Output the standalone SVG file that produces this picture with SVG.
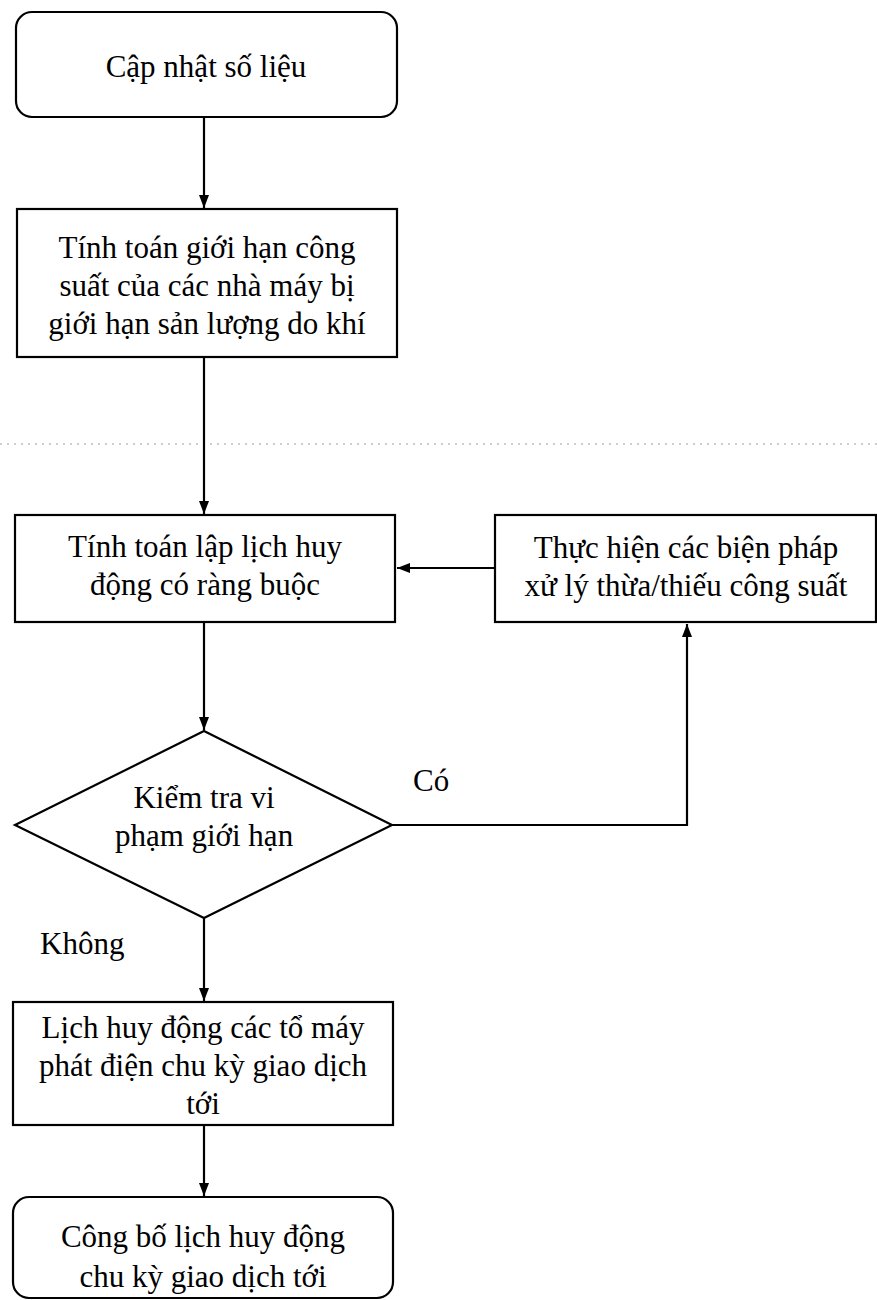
<svg xmlns="http://www.w3.org/2000/svg" width="877" height="1300" viewBox="0 0 877 1300">
<style>
  .box { fill: #ffffff; stroke: #000000; stroke-width: 2.2; }
  .conn { fill: none; stroke: #000000; stroke-width: 2.2; }
  .t { font-family: "Liberation Serif", "Times New Roman", serif; font-size: 31px; fill: #000000; text-anchor: middle; }
  .lbl { font-family: "Liberation Serif", "Times New Roman", serif; font-size: 31px; fill: #000000; }
  .dots { stroke: #9a9a9a; stroke-width: 1; stroke-dasharray: 2 5; fill: none; }
</style>
<defs>
  <marker id="arr" markerUnits="userSpaceOnUse" markerWidth="13" markerHeight="10" refX="13" refY="5" orient="auto">
    <path d="M0,0 L13,5 L0,10 Z" fill="#000000"/>
  </marker>
</defs>
<rect width="877" height="1300" fill="#ffffff"/>
<line class="dots" x1="0" y1="444" x2="877" y2="444"/>

<g id="connectors">
  <line class="conn" x1="204" y1="117" x2="204" y2="208" marker-end="url(#arr)"/>
  <line class="conn" x1="204" y1="357" x2="204" y2="514" marker-end="url(#arr)"/>
  <line class="conn" x1="204" y1="622" x2="204" y2="730" marker-end="url(#arr)"/>
  <polyline class="conn" points="392,825 687,825 687,624" marker-end="url(#arr)"/>
  <line class="conn" x1="495" y1="568" x2="397" y2="568" marker-end="url(#arr)"/>
  <line class="conn" x1="204" y1="918" x2="204" y2="1001" marker-end="url(#arr)"/>
  <line class="conn" x1="204" y1="1125" x2="204" y2="1196" marker-end="url(#arr)"/>
  <text class="lbl" x="413" y="791">Có</text>
  <text class="lbl" x="40" y="954">Không</text>
</g>

<g id="n1">
  <rect class="box" x="16" y="12" width="381" height="105" rx="16" ry="16"/>
  <text class="t" x="206" y="77">Cập nhật số liệu</text>
</g>

<g id="n2">
  <rect class="box" x="17" y="209" width="380" height="148"/>
  <text class="t" x="207" y="258">Tính toán giới hạn công</text>
  <text class="t" x="207" y="296">suất của các nhà máy bị</text>
  <text class="t" x="207" y="334">giới hạn sản lượng do khí</text>
</g>

<g id="n3">
  <rect class="box" x="15" y="515" width="380" height="107"/>
  <text class="t" x="205" y="557">Tính toán lập lịch huy</text>
  <text class="t" x="205" y="595">động có ràng buộc</text>
</g>

<g id="n4">
  <rect class="box" x="495" y="515" width="381" height="107"/>
  <text class="t" x="686" y="558">Thực hiện các biện pháp</text>
  <text class="t" x="686" y="596">xử lý thừa/thiếu công suất</text>
</g>

<g id="n5">
  <polygon class="box" points="204,731 392,825 204,918 15,825"/>
  <text class="t" x="204" y="808">Kiểm tra vi</text>
  <text class="t" x="204" y="846">phạm giới hạn</text>
</g>

<g id="n6">
  <rect class="box" x="13" y="1002" width="380" height="123"/>
  <text class="t" x="203" y="1038">Lịch huy động các tổ máy</text>
  <text class="t" x="203" y="1076">phát điện chu kỳ giao dịch</text>
  <text class="t" x="203" y="1114">tới</text>
</g>

<g id="n7">
  <rect class="box" x="13" y="1197" width="380" height="101" rx="16" ry="16"/>
  <text class="t" x="203" y="1247">Công bố lịch huy động</text>
  <text class="t" x="203" y="1287">chu kỳ giao dịch tới</text>
</g>
</svg>
